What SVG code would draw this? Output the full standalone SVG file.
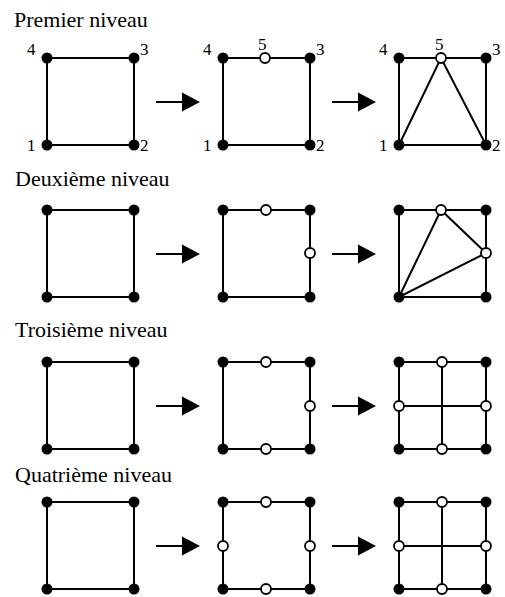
<svg xmlns="http://www.w3.org/2000/svg" xmlns:xlink="http://www.w3.org/1999/xlink" width="505" height="597" viewBox="0 0 505 597">
  <style>
    .title { font-family: "Liberation Serif", "Times New Roman", serif; font-size: 22px; fill: #000; }
    .lbl { font-family: "Liberation Serif", "Times New Roman", serif; font-size: 17px; fill: #000; }
    .edge { stroke: #000; stroke-width: 2; fill: none; }
    .arrow { stroke: #000; stroke-width: 2; fill: none; }
    .solid { fill: #000; stroke: none; }
    .hollow { fill: #fff; stroke: #000; stroke-width: 1.8; }
  </style>
  <defs>
    <circle id="dot" r="5.5" class="solid"/>
    <circle id="ring" r="5" class="hollow"/>
    <polygon id="head" points="0,-9.5 18,0 0,9.5" fill="#000"/>
  </defs>
  <rect width="505" height="597" fill="#fff"/>

  <!-- level titles -->
  <text class="title" x="14" y="27">Premier niveau</text>
  <text class="title" x="15" y="186">Deuxième niveau</text>
  <text class="title" x="15" y="337">Troisième niveau</text>
  <text class="title" x="15" y="482">Quatrième niveau</text>

  <!-- connectors: square edges, inner subdivisions and step arrows -->
  <g id="connectors">
    <!-- level 1 -->
    <rect class="edge" x="47" y="58" width="87" height="87"/>
    <rect class="edge" x="223" y="58" width="87" height="87"/>
    <rect class="edge" x="399" y="58" width="87" height="87"/>
    <polyline class="edge" points="399,145 441,58 486,145"/>
    <!-- level 2 -->
    <rect class="edge" x="47" y="210" width="87" height="87"/>
    <rect class="edge" x="223" y="210" width="87" height="87"/>
    <rect class="edge" x="399" y="210" width="87" height="87"/>
    <polygon class="edge" points="399,297 441,210 486,253"/>
    <!-- level 3 -->
    <rect class="edge" x="47" y="362" width="87" height="87"/>
    <rect class="edge" x="223" y="362" width="87" height="87"/>
    <rect class="edge" x="399" y="362" width="87" height="87"/>
    <line class="edge" x1="442" y1="362" x2="442" y2="449"/>
    <line class="edge" x1="399" y1="406" x2="486" y2="406"/>
    <!-- level 4 -->
    <rect class="edge" x="47" y="502" width="87" height="87"/>
    <rect class="edge" x="223" y="502" width="87" height="87"/>
    <rect class="edge" x="399" y="502" width="87" height="87"/>
    <line class="edge" x1="442" y1="502" x2="442" y2="589"/>
    <line class="edge" x1="399" y1="546" x2="486" y2="546"/>

    <!-- step arrows -->
    <g id="arrows">
      <line class="arrow" x1="156" y1="102" x2="184" y2="102"/><use xlink:href="#head" x="182" y="102"/>
      <line class="arrow" x1="332" y1="102" x2="360" y2="102"/><use xlink:href="#head" x="358" y="102"/>
      <line class="arrow" x1="156" y1="254" x2="184" y2="254"/><use xlink:href="#head" x="182" y="254"/>
      <line class="arrow" x1="332" y1="254" x2="360" y2="254"/><use xlink:href="#head" x="358" y="254"/>
      <line class="arrow" x1="156" y1="406" x2="184" y2="406"/><use xlink:href="#head" x="182" y="406"/>
      <line class="arrow" x1="332" y1="406" x2="360" y2="406"/><use xlink:href="#head" x="358" y="406"/>
      <line class="arrow" x1="156" y1="546" x2="184" y2="546"/><use xlink:href="#head" x="182" y="546"/>
      <line class="arrow" x1="332" y1="546" x2="360" y2="546"/><use xlink:href="#head" x="358" y="546"/>
    </g>
  </g>

  <!-- level 1 nodes (numbered) -->
  <g id="l1a-n1"><use xlink:href="#dot" x="47" y="145"/><text class="lbl" x="27" y="151">1</text></g>
  <g id="l1a-n2"><use xlink:href="#dot" x="134" y="145"/><text class="lbl" x="140" y="151">2</text></g>
  <g id="l1a-n3"><use xlink:href="#dot" x="134" y="58"/><text class="lbl" x="140" y="55">3</text></g>
  <g id="l1a-n4"><use xlink:href="#dot" x="47" y="58"/><text class="lbl" x="27" y="55">4</text></g>

  <g id="l1b-n1"><use xlink:href="#dot" x="223" y="145"/><text class="lbl" x="203" y="151">1</text></g>
  <g id="l1b-n2"><use xlink:href="#dot" x="310" y="145"/><text class="lbl" x="316" y="151">2</text></g>
  <g id="l1b-n3"><use xlink:href="#dot" x="310" y="58"/><text class="lbl" x="316" y="55">3</text></g>
  <g id="l1b-n4"><use xlink:href="#dot" x="223" y="58"/><text class="lbl" x="203" y="55">4</text></g>
  <g id="l1b-n5"><use xlink:href="#ring" x="265" y="58"/><text class="lbl" x="258" y="50">5</text></g>

  <g id="l1c-n1"><use xlink:href="#dot" x="399" y="145"/><text class="lbl" x="379" y="151">1</text></g>
  <g id="l1c-n2"><use xlink:href="#dot" x="486" y="145"/><text class="lbl" x="492" y="151">2</text></g>
  <g id="l1c-n3"><use xlink:href="#dot" x="486" y="58"/><text class="lbl" x="492" y="55">3</text></g>
  <g id="l1c-n4"><use xlink:href="#dot" x="399" y="58"/><text class="lbl" x="379" y="55">4</text></g>
  <g id="l1c-n5"><use xlink:href="#ring" x="441" y="58"/><text class="lbl" x="435" y="50">5</text></g>

  <!-- level 2 nodes -->
  <g id="l2a-n1"><use xlink:href="#dot" x="47" y="297"/></g>
  <g id="l2a-n2"><use xlink:href="#dot" x="134" y="297"/></g>
  <g id="l2a-n3"><use xlink:href="#dot" x="134" y="210"/></g>
  <g id="l2a-n4"><use xlink:href="#dot" x="47" y="210"/></g>

  <g id="l2b-n1"><use xlink:href="#dot" x="223" y="297"/></g>
  <g id="l2b-n2"><use xlink:href="#dot" x="310" y="297"/></g>
  <g id="l2b-n3"><use xlink:href="#dot" x="310" y="210"/></g>
  <g id="l2b-n4"><use xlink:href="#dot" x="223" y="210"/></g>
  <g id="l2b-n5"><use xlink:href="#ring" x="266" y="210"/></g>
  <g id="l2b-n6"><use xlink:href="#ring" x="310" y="253"/></g>

  <g id="l2c-n1"><use xlink:href="#dot" x="399" y="297"/></g>
  <g id="l2c-n2"><use xlink:href="#dot" x="486" y="297"/></g>
  <g id="l2c-n3"><use xlink:href="#dot" x="486" y="210"/></g>
  <g id="l2c-n4"><use xlink:href="#dot" x="399" y="210"/></g>
  <g id="l2c-n5"><use xlink:href="#ring" x="441" y="210"/></g>
  <g id="l2c-n6"><use xlink:href="#ring" x="486" y="253"/></g>

  <!-- level 3 nodes -->
  <g id="l3a-n1"><use xlink:href="#dot" x="47" y="449"/></g>
  <g id="l3a-n2"><use xlink:href="#dot" x="134" y="449"/></g>
  <g id="l3a-n3"><use xlink:href="#dot" x="134" y="362"/></g>
  <g id="l3a-n4"><use xlink:href="#dot" x="47" y="362"/></g>

  <g id="l3b-n1"><use xlink:href="#dot" x="223" y="449"/></g>
  <g id="l3b-n2"><use xlink:href="#dot" x="310" y="449"/></g>
  <g id="l3b-n3"><use xlink:href="#dot" x="310" y="362"/></g>
  <g id="l3b-n4"><use xlink:href="#dot" x="223" y="362"/></g>
  <g id="l3b-n5"><use xlink:href="#ring" x="266" y="362"/></g>
  <g id="l3b-n6"><use xlink:href="#ring" x="310" y="406"/></g>
  <g id="l3b-n7"><use xlink:href="#ring" x="266" y="449"/></g>

  <g id="l3c-n1"><use xlink:href="#dot" x="399" y="449"/></g>
  <g id="l3c-n2"><use xlink:href="#dot" x="486" y="449"/></g>
  <g id="l3c-n3"><use xlink:href="#dot" x="486" y="362"/></g>
  <g id="l3c-n4"><use xlink:href="#dot" x="399" y="362"/></g>
  <g id="l3c-n5"><use xlink:href="#ring" x="442" y="362"/></g>
  <g id="l3c-n6"><use xlink:href="#ring" x="486" y="406"/></g>
  <g id="l3c-n7"><use xlink:href="#ring" x="442" y="449"/></g>
  <g id="l3c-n8"><use xlink:href="#ring" x="399" y="406"/></g>

  <!-- level 4 nodes -->
  <g id="l4a-n1"><use xlink:href="#dot" x="47" y="589"/></g>
  <g id="l4a-n2"><use xlink:href="#dot" x="134" y="589"/></g>
  <g id="l4a-n3"><use xlink:href="#dot" x="134" y="502"/></g>
  <g id="l4a-n4"><use xlink:href="#dot" x="47" y="502"/></g>

  <g id="l4b-n1"><use xlink:href="#dot" x="223" y="589"/></g>
  <g id="l4b-n2"><use xlink:href="#dot" x="310" y="589"/></g>
  <g id="l4b-n3"><use xlink:href="#dot" x="310" y="502"/></g>
  <g id="l4b-n4"><use xlink:href="#dot" x="223" y="502"/></g>
  <g id="l4b-n5"><use xlink:href="#ring" x="266" y="502"/></g>
  <g id="l4b-n6"><use xlink:href="#ring" x="310" y="546"/></g>
  <g id="l4b-n7"><use xlink:href="#ring" x="266" y="589"/></g>
  <g id="l4b-n8"><use xlink:href="#ring" x="223" y="546"/></g>

  <g id="l4c-n1"><use xlink:href="#dot" x="399" y="589"/></g>
  <g id="l4c-n2"><use xlink:href="#dot" x="486" y="589"/></g>
  <g id="l4c-n3"><use xlink:href="#dot" x="486" y="502"/></g>
  <g id="l4c-n4"><use xlink:href="#dot" x="399" y="502"/></g>
  <g id="l4c-n5"><use xlink:href="#ring" x="442" y="502"/></g>
  <g id="l4c-n6"><use xlink:href="#ring" x="486" y="546"/></g>
  <g id="l4c-n7"><use xlink:href="#ring" x="442" y="589"/></g>
  <g id="l4c-n8"><use xlink:href="#ring" x="399" y="546"/></g>
</svg>
